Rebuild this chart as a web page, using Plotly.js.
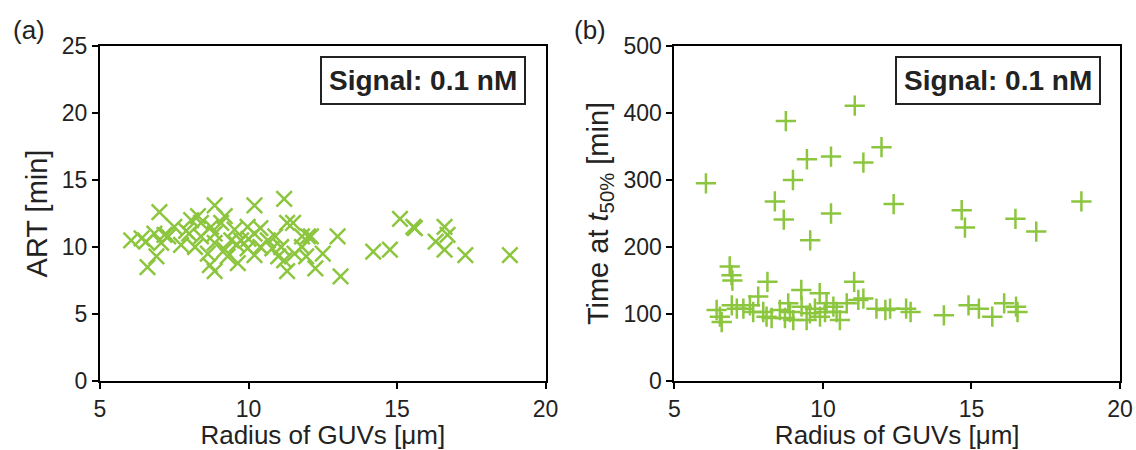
<!DOCTYPE html>
<html>
<head>
<meta charset="utf-8">
<script src="https://cdn.plot.ly/plotly-3.0.1.min.js"></script>
<style>html,body{margin:0;padding:0;background:#fff;}#chart{width:1136px;height:450px;}</style>
</head>
<body>
<div id="chart"></div>
<script>
// Panel (a): ART vs radius
const radiusA = [6.05,6.4,6.55,6.6,6.83,6.9,7.0,7.06,7.17,7.5,7.73,8.0,8.07,8.2,8.3,8.4,8.4,8.63,8.7,8.74,8.86,8.86,8.86,8.86,9.08,9.2,9.2,9.3,9.42,9.53,9.64,9.75,9.97,9.97,10.2,10.2,10.2,10.4,10.4,10.65,10.9,11.0,11.1,11.2,11.2,11.3,11.3,11.5,11.55,11.8,11.8,11.94,12.0,12.1,12.25,12.5,13.0,13.1,14.2,14.76,15.1,15.55,15.6,16.3,16.6,16.6,16.7,17.3,18.8,7.3,7.9,9.6,10.0,10.8];
const artA = [10.5,10.65,10.4,8.5,11.0,9.3,12.6,10.3,10.9,11.5,10.15,11.0,12.0,10.0,12.3,11.8,10.8,9.5,8.65,11.5,13.1,10.3,11.0,8.2,11.8,12.3,9.8,9.3,10.5,11.3,8.8,10.5,9.9,11.5,13.1,11.0,9.4,10.0,11.4,10.5,10.8,9.3,10.0,13.6,9.0,11.8,8.2,11.8,9.5,10.8,10.0,9.3,10.8,10.8,8.4,9.5,10.8,7.8,9.65,9.8,12.1,11.5,11.4,10.4,11.5,9.8,10.9,9.4,9.4,10.8,11.2,10.2,10.6,9.9];

// Panel (b): time at t50% vs radius
const radiusB = [6.06,8.75,11.07,11.97,11.36,10.27,9.46,8.99,8.38,8.68,10.27,9.57,12.38,14.67,14.78,16.48,17.18,18.7,
  6.86,6.92,6.95,8.13,11.05,9.27,7.82,9.89,6.53,6.59,6.42,6.93,7.1,7.54,7.99,8.1,8.27,8.55,8.83,8.89,9.28,9.56,9.73,10.12,10.35,10.57,10.46,10.8,11.19,11.36,11.8,12.26,9.45,8.72,9.0,7.65,7.32,9.9,10.07,
  12.1,12.8,12.95,14.07,14.9,15.25,15.7,16.1,16.5,16.55];
const timeB = [295,388,411,349,326,335,331,300,268,241,250,210,264,255,229,242,223,268,
  171,158,150,148,148,136,126,131,96,88,106,113,108,113,103,96,94,106,116,103,111,101,108,116,111,91,103,116,121,123,108,108,91,94,91,103,108,96,103,
  106,108,103,98,113,108,96,116,111,103];

const green = 'rgb(140,198,63)';
const fontFam = 'Liberation Sans, Arial, sans-serif';
const txt = '#222';

const axisCommon = {
  showline: true, linecolor: '#000', linewidth: 2, mirror: true,
  ticks: 'outside', ticklen: 6, tickwidth: 2, tickcolor: '#000',
  showgrid: false, zeroline: false,
  tickfont: {family: fontFam, size: 23, color: txt}
};

const traces = [
  {x: radiusA, y: artA, type: 'scatter', mode: 'markers', xaxis: 'x', yaxis: 'y',
   marker: {symbol: 'x-thin-open', size: 15.5, color: green, line: {color: green, width: 2.5}}},
  {x: radiusB, y: timeB, type: 'scatter', mode: 'markers', xaxis: 'x2', yaxis: 'y2',
   marker: {symbol: 'cross-thin-open', size: 14.5, color: green, line: {color: green, width: 2.5}}}
];

const layout = {
  width: 1136, height: 450,
  margin: {l: 100, r: 16, t: 46, b: 69},
  paper_bgcolor: '#fff', plot_bgcolor: '#fff',
  showlegend: false,
  font: {family: fontFam, color: txt},
  xaxis: Object.assign({}, axisCommon, {domain: [0, 0.4368], range: [5, 20], tickvals: [5,10,15,20],
    title: {text: 'Radius of GUVs [μm]', font: {family: fontFam, size: 26, color: txt}}}),
  yaxis: Object.assign({}, axisCommon, {range: [0, 25], tickvals: [0,5,10,15,20,25],
    title: {text: 'ART [min]', font: {family: fontFam, size: 29, color: txt}, standoff: 6}}),
  xaxis2: Object.assign({}, axisCommon, {domain: [0.5632, 1], anchor: 'y2', range: [5, 20], tickvals: [5,10,15,20],
    title: {text: 'Radius of GUVs [μm]', font: {family: fontFam, size: 26, color: txt}}}),
  yaxis2: Object.assign({}, axisCommon, {anchor: 'x2', range: [0, 500], tickvals: [0,100,200,300,400,500],
    title: {text: 'Time at <i>t</i><sub>50%</sub> [min]', font: {family: fontFam, size: 29, color: txt}, standoff: 6}}),
  annotations: [
    {text: '(a)', xref: 'paper', yref: 'paper', x: -0.087, y: 1.048, xanchor: 'left', yanchor: 'middle',
     showarrow: false, font: {family: fontFam, size: 26, color: txt}},
    {text: '(b)', xref: 'paper', yref: 'paper', x: 0.4627, y: 1.048, xanchor: 'left', yanchor: 'middle',
     showarrow: false, font: {family: fontFam, size: 26, color: txt}},
    {text: '<b>Signal: 0.1 nM</b>', xref: 'x domain', yref: 'y domain', x: 0.957, y: 0.97, xanchor: 'right', yanchor: 'top',
     showarrow: false, font: {family: fontFam, size: 28, color: txt},
     bordercolor: '#222', borderwidth: 2, borderpad: 7, bgcolor: '#fff'},
    {text: '<b>Signal: 0.1 nM</b>', xref: 'x2 domain', yref: 'y2 domain', x: 0.957, y: 0.97, xanchor: 'right', yanchor: 'top',
     showarrow: false, font: {family: fontFam, size: 28, color: txt},
     bordercolor: '#222', borderwidth: 2, borderpad: 7, bgcolor: '#fff'}
  ]
};

Plotly.newPlot('chart', traces, layout, {displayModeBar: false, staticPlot: true});
</script>
</body>
</html>
